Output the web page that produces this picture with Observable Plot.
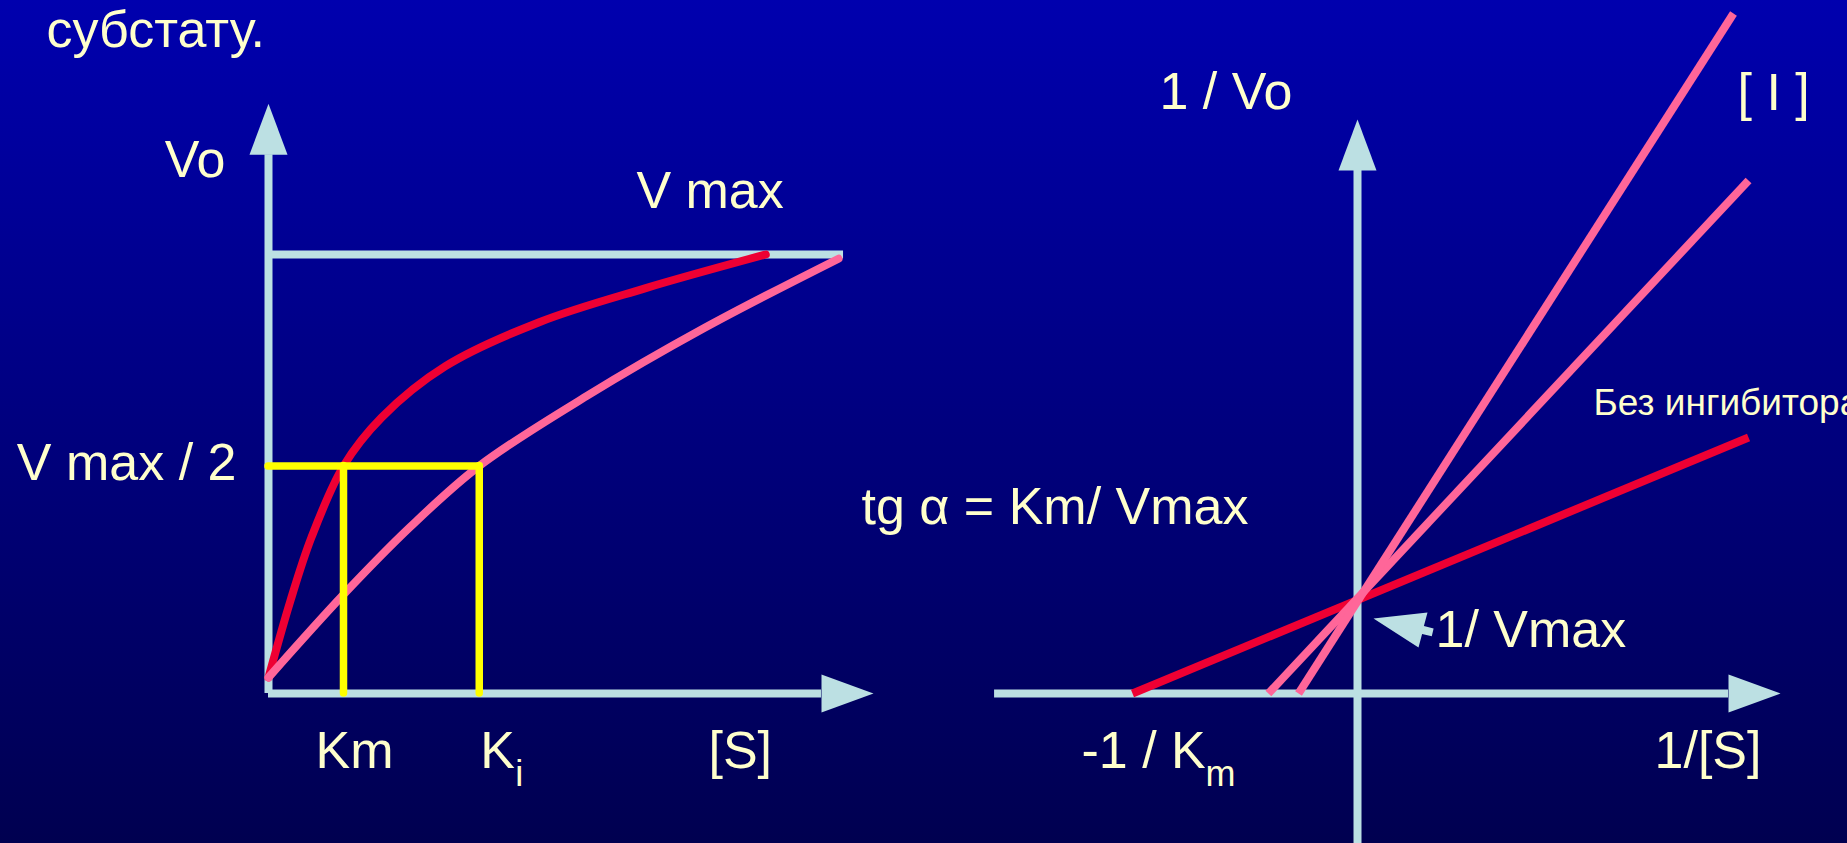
<!DOCTYPE html>
<html>
<head>
<meta charset="utf-8">
<script src="https://cdn.jsdelivr.net/npm/d3@7"></script>
<script src="https://cdn.jsdelivr.net/npm/@observablehq/plot@0.6"></script>
<style>
  html, body { margin: 0; padding: 0; overflow: hidden; background: #000058; }
  #slide {
    position: relative; width: 1847px; height: 843px; overflow: hidden;
    background: linear-gradient(to bottom, #0000AE 0%, #000050 100%);
  }
  #slide svg { position: absolute; left: 0; top: 0; }
</style>
</head>
<body>
<div id="slide"></div>
<script>
// ---- Michaelis–Menten panel: [S] in units of Km, Vo in units of Vmax ----
const Km = 1;
const Ki = 2.81;        // apparent Km with competitive inhibitor
const Vmax = 1;
// without inhibitor
const mmS = [0, 0.29, 0.57, 1, 1.51, 2.36, 3.61, 5.02, 6.63];
const mmV = [0, 0.18, 0.33, 0.5, 0.615, 0.736, 0.84, 0.92, 1.0];
// with competitive inhibitor
const mmInhS = [0, 1, 1.89, 2.81, 4.24, 5.81, 7.6];
const mmInhV = [0, 0.196, 0.356, 0.5, 0.665, 0.826, 0.99];

// ---- Lineweaver–Burk panel: 1/[S] in units of 1/Km, 1/Vo in units of 1/Vmax ----
const lbSeries = ["Без ингибитора", "[I] малая", "[I] большая"];
const lbIntercept = [-1, -0.396, -0.262];   // x-intercepts, -1/Km(app)
const lbEndX = [1.738, 1.738, 1.671];
const lbEndY = [2.753, 5.516, 7.312];

// axis extents (shaft ends, arrowheads are drawn beyond them)
const sAxisLevel = -0.038, sAxisEnd = 7.373, vAxisEnd = 1.236, vmaxLineEnd = 7.667;
const rxAxisStart = -1.613, rxAxisEnd = 1.649, ryAxisStart = -1.7, ryAxisEnd = 5.624;

// ---- styling ----
const axisColor = "#BCE0E3";
const red = "#EE0033";
const pink = "#FF6699";
const yellow = "#FFFF00";
const ink = "#FFFFCC";
const font = "'Liberation Sans', Arial, Helvetica, sans-serif";
const big = 52, small = 37, sub = 36;

// arrowheads anchored at the centre of their base
const upHead = {draw(ctx) { ctx.moveTo(-19, 0); ctx.lineTo(0, -51); ctx.lineTo(19, 0); ctx.closePath(); }};
const rightHead = {draw(ctx) { ctx.moveTo(0, -19); ctx.lineTo(52, 0); ctx.lineTo(0, 19); ctx.closePath(); }};
// block arrow pointing at the 1/Vmax intercept, anchored at its tip
const pointerHead = {draw(ctx) {
  ctx.moveTo(0, 0); ctx.lineTo(54, -6); ctx.lineTo(50.4, 7.6); ctx.lineTo(60.1, 9.9);
  ctx.lineTo(58.3, 17.7); ctx.lineTo(48.6, 15.4); ctx.lineTo(45, 29); ctx.closePath();
}};

const mmRows = mmS.map((s, i) => ({s, v: mmV[i]}));
const mmInhRows = mmInhS.map((s, i) => ({s, v: mmInhV[i]}));
const lbRows = lbSeries.map((name, i) => ({name, x1: lbIntercept[i], y1: 0, x2: lbEndX[i], y2: lbEndY[i]}));

const label = (text, opts) => Plot.text([text], {fill: ink, fontSize: big, lineAnchor: "bottom", textAnchor: "start", ...opts});
const baseStyle = {background: "transparent", fontFamily: font};

const mm = Plot.plot({
  width: 1847, height: 843, margin: 0,
  x: {domain: [0, Km], range: [268, 343], axis: null},
  y: {domain: [0, Vmax], range: [677, 254], axis: null},
  style: baseStyle,
  marks: [
    Plot.ruleX([{x: 0, y1: sAxisLevel, y2: vAxisEnd}], {x: "x", y1: "y1", y2: "y2", stroke: axisColor, strokeWidth: 8}),
    Plot.ruleY([{y: sAxisLevel, x1: 0, x2: sAxisEnd}], {y: "y", x1: "x1", x2: "x2", stroke: axisColor, strokeWidth: 8}),
    Plot.dot([{x: 0, y: vAxisEnd}], {x: "x", y: "y", symbol: upHead, fill: axisColor, stroke: "none"}),
    Plot.dot([{x: sAxisEnd, y: sAxisLevel}], {x: "x", y: "y", symbol: rightHead, fill: axisColor, stroke: "none"}),
    Plot.ruleY([{y: Vmax, x1: 0, x2: vmaxLineEnd}], {y: "y", x1: "x1", x2: "x2", stroke: axisColor, strokeWidth: 8}),
    Plot.line(mmRows, {x: "s", y: "v", stroke: red, strokeWidth: 8, curve: "catmull-rom"}),
    Plot.line(mmInhRows, {x: "s", y: "v", stroke: pink, strokeWidth: 8, curve: "catmull-rom"}),
    Plot.ruleX([Km, Ki], {y1: sAxisLevel, y2: Vmax / 2, stroke: yellow, strokeWidth: 7.5, strokeLinecap: "round"}),
    Plot.ruleY([{y: Vmax / 2, x1: 0, x2: Ki}], {y: "y", x1: "x1", x2: "x2", stroke: yellow, strokeWidth: 7.5, strokeLinecap: "round"}),
    label("субстату.", {frameAnchor: "top-left", dx: 46, dy: 46}),
    label("Vo", {x: 0, y: vAxisEnd, textAnchor: "end", dx: -43, dy: 22}),
    label("V max", {x: mmS[mmS.length - 1], y: Vmax, textAnchor: "end", dx: 18, dy: -47}),
    label("V max / 2", {x: 0, y: Vmax / 2, textAnchor: "end", dx: -32, dy: 13.5}),
    label("Km", {x: Km, y: sAxisLevel, dx: -28, dy: 74}),
    label("K", {x: Ki, y: sAxisLevel, dx: 1, dy: 74}),
    label("i", {x: Ki, y: sAxisLevel, dx: 36, dy: 92, fontSize: sub}),
    label("[S]", {x: sAxisEnd, y: sAxisLevel, dx: -113, dy: 74})
  ]
});

const lb = Plot.plot({
  width: 1847, height: 843, margin: 0,
  x: {domain: [0, 1 / Km], range: [1357, 1582], axis: null},
  y: {domain: [0, 1 / Vmax], range: [693, 600], axis: null},
  style: baseStyle,
  marks: [
    Plot.ruleX([{x: 0, y1: ryAxisStart, y2: ryAxisEnd}], {x: "x", y1: "y1", y2: "y2", stroke: axisColor, strokeWidth: 8}),
    Plot.ruleY([{y: 0, x1: rxAxisStart, x2: rxAxisEnd}], {y: "y", x1: "x1", x2: "x2", stroke: axisColor, strokeWidth: 8}),
    Plot.dot([{x: 0, y: ryAxisEnd}], {x: "x", y: "y", symbol: upHead, fill: axisColor, stroke: "none"}),
    Plot.dot([{x: rxAxisEnd, y: 0}], {x: "x", y: "y", symbol: rightHead, fill: axisColor, stroke: "none"}),
    Plot.link(lbRows.slice(0, 1), {x1: "x1", y1: "y1", x2: "x2", y2: "y2", stroke: red, strokeWidth: 8}),
    Plot.link(lbRows.slice(1), {x1: "x1", y1: "y1", x2: "x2", y2: "y2", stroke: pink, strokeWidth: 8}),
    Plot.dot([{x: 0, y: 1 / Vmax}], {x: "x", y: "y", symbol: pointerHead, fill: axisColor, stroke: "none", dx: 16, dy: 18}),
    label("1 / Vo", {x: 0, y: ryAxisEnd, dx: -198, dy: -61}),
    label("[ I ]", {x: 0, y: ryAxisEnd, dx: 380, dy: -60}),
    label(lbSeries[0], {x: lbEndX[0], y: lbEndY[0], dx: -155, dy: -22, fontSize: small}),
    label("tg α = Km/ Vmax", {x: 0, y: 1 / Vmax, dx: -496, dy: -77}),
    label("1/ Vmax", {x: 0, y: 1 / Vmax, dx: 78, dy: 46}),
    label("-1 / K", {x: -1 / Km, y: 0, dx: -51, dy: 74}),
    label("m", {x: -1 / Km, y: 0, dx: 73, dy: 92, fontSize: sub}),
    label("1/[S]", {x: rxAxisEnd, y: 0, dx: -74, dy: 74})
  ]
});

const slide = document.getElementById("slide");
slide.append(mm, lb);
</script>
</body>
</html>
